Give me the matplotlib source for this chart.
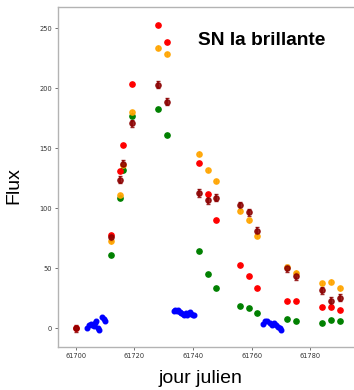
import numpy as np
import matplotlib
matplotlib.use("Agg")
import matplotlib.pyplot as plt

# multi-band observation dates (MJD)
days = [61700.0, 61712.2, 61715.0, 61716.2, 61719.1, 61728.2, 61731.1, 61742.0, 61745.0,
        61748.0, 61756.0, 61759.0, 61762.0, 61772.0, 61775.0, 61784.0, 61787.0, 61790.0]
flux_red = [0, 78, 131, 152.7, 204, 252.5, 239, 138, 112, 90.5, 53, 43.3, 33.6, 22.8, 22.5, 17.8, 17.8, 15]
flux_orange = [np.nan, 72.5, 111, 136, 180, 234, 228.6, 145.5, 132, 122.8, 97.8, 90, 77.2, 51, 46.4, 37.5, 39, 33.3]
flux_darkred = [0, 76, 124, 137, 171, 203, 189, 112.8, 107, 109, 102.5, 96.7, 81.4, 50, 43.6, 31.7, 22.8, 25.5]
flux_green = [np.nan, 61.4, 108.5, 132, 177, 183, 161, 64.5, 45, 33.6, 18.3, 17, 12.5, 8, 6, 4.2, 6.7, 6.4]

# blue band, dense sampling
days_blue = [61704.0, 61704.6, 61705.2, 61705.7, 61706.2, 61706.6, 61707.1, 61707.6, 61708.0,
             61709.0, 61709.5, 61710.0,
             61733.5, 61734.0, 61734.5, 61735.0, 61735.5, 61736.0, 61736.5, 61737.0, 61737.5,
             61738.0, 61738.5, 61739.0, 61739.5, 61740.0, 61740.5,
             61763.8, 61764.6, 61765.4, 61766.1, 61766.9, 61767.7, 61768.4, 61769.1, 61769.7, 61770.1]
flux_blue = [0.5, 2.5, 3.8, 3.0, 2.0, 4.5, 5.8, 0.5, -1.0,
             9.5, 7.5, 6.0,
             14.5, 15.0, 14.8, 15.2, 14.0, 13.0, 12.0, 11.0, 12.5,
             11.5, 12.8, 13.5, 12.0, 11.5, 11.0,
             3.6, 5.8, 6.4, 4.7, 2.5, 4.1, 2.8, 1.4, 0.3, -1.4]

fig = plt.figure(figsize=(3.54, 3.9), dpi=100)
ax = fig.add_axes([0.164, 0.110, 0.85, 0.872])

ax.errorbar(days_blue, flux_blue, yerr=1.5, xerr=0.3, fmt="o", color="blue", ms=3.3, elinewidth=1, capsize=0)
ax.errorbar(days, flux_green, fmt="o", color="green", ms=3.8)
ax.errorbar(days, flux_orange, yerr=2, fmt="o", color="orange", ms=3.8, elinewidth=1, alpha=0.9)
ax.errorbar(days, flux_red, fmt="o", color="red", ms=3.8)
ax.errorbar(days, flux_darkred, yerr=3, fmt="o", color="darkred", ms=3.8, elinewidth=1.2,
            capsize=1.5, alpha=0.85)

ax.set_xlim(61694, 61796.6)
ax.set_ylim(-15.6, 267.8)
ax.set_xticks([61700, 61720, 61740, 61760, 61780])
ax.set_yticks([0, 50, 100, 150, 200, 250])
ax.tick_params(labelsize=4.8, length=2.5, width=0.6, colors="0.35", labelcolor="0.2", pad=2)
for side in ["left", "bottom", "top"]:
    ax.spines[side].set_color("0.7")
    ax.spines[side].set_linewidth(1)
ax.spines["right"].set_visible(False)

ax.text(0.466, 0.903, "SN Ia brillante", transform=ax.transAxes, fontsize=13.8,
        fontweight="bold", family="Liberation Sans", va="center", ha="left")
fig.text(0.04, 0.525, "Flux", rotation=90, fontsize=14, family="Liberation Sans",
         va="center", ha="center")
fig.text(0.565, 0.03, "jour julien", fontsize=14, family="Liberation Sans",
         va="center", ha="center")

fig.savefig("out.png", dpi=100)
